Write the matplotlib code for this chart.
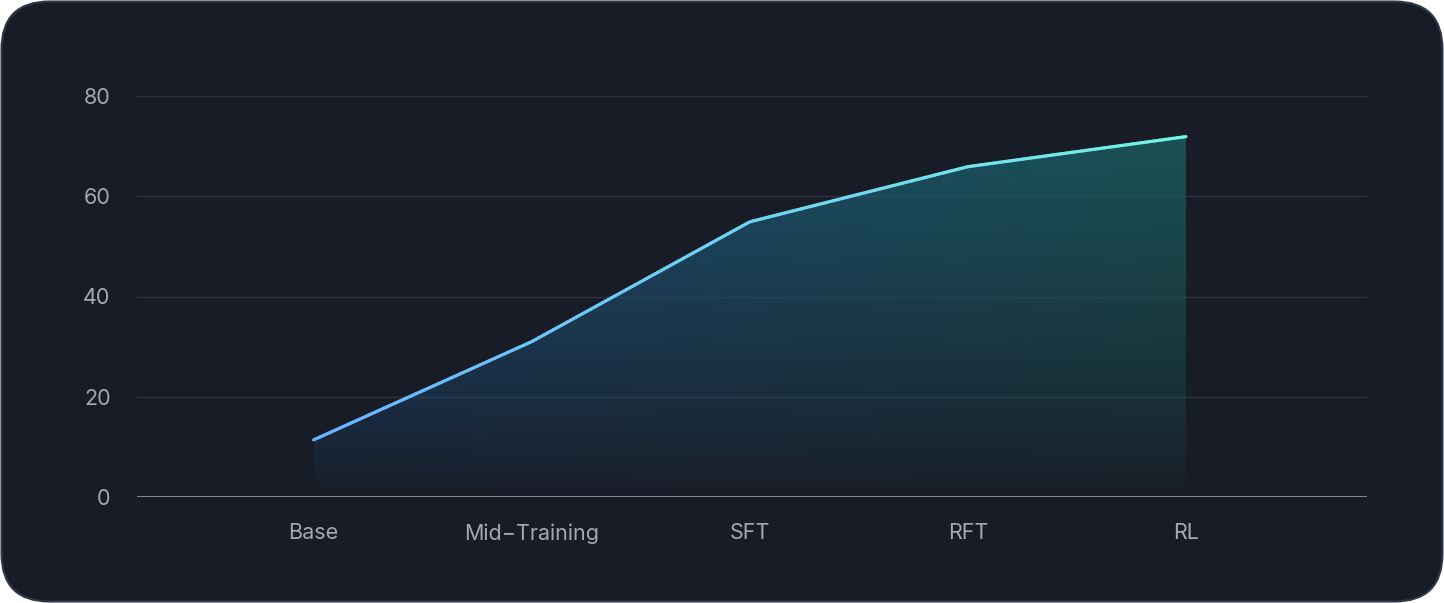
import numpy as np
import matplotlib.pyplot as plt
from matplotlib.patches import FancyBboxPatch
from matplotlib.collections import LineCollection
from matplotlib.colors import to_rgb

stages = ["Base", "Mid\u2212Training", "SFT", "RFT", "RL"]
scores = [11.4, 31.0, 54.9, 65.9, 71.9]
yticks = [0, 20, 40, 60, 80]

plt.rcParams["font.family"] = "Inter"

W, H = 1444, 603
fig = plt.figure(figsize=(W / 100, H / 100), dpi=100)
fig.patch.set_alpha(0)

# rounded card background
bg = fig.add_axes([0, 0, 1, 1])
bg.set_xlim(0, W)
bg.set_ylim(0, H)
bg.axis("off")
bg.add_patch(FancyBboxPatch((1.5, 1.5), W - 3, H - 3, boxstyle="round,pad=0,rounding_size=48",
                            fc="#181c26", ec="#30384a", lw=1.5))

ax = fig.add_axes([137 / W, 106 / H, (1367 - 137) / W, (497 - 96) / H])
ax.patch.set_alpha(0)
x = np.arange(len(stages))
ax.set_xlim(-0.81, 4.83)
ax.set_ylim(0, 80)

for t in yticks[1:]:
    ax.axhline(t, color="#2c3240", lw=1, zorder=1)
ax.axhline(0, color="#8a909c", lw=1.3, zorder=3)

# gradient fill under line
c_left = np.array(to_rgb("#1f5590"))
c_right = np.array(to_rgb("#1a6060"))
nx, ny = 400, 200
gx = np.linspace(0, 1, nx)[None, :, None]
gy = np.linspace(0, 1, ny)[:, None, None]
rgb = c_left * (1 - gx) + c_right * gx
rgb = np.broadcast_to(rgb, (ny, nx, 3))
alpha = (gy[..., 0] ** 0.8) * 0.8
img = np.dstack([rgb, np.broadcast_to(alpha, (ny, nx))])
poly = ax.fill_between(x, scores, 0, color="none", lw=0)
im = ax.imshow(img, extent=[x[0], x[-1], 0, max(scores)], origin="lower",
               aspect="auto", zorder=2)
im.set_clip_path(poly.get_paths()[0], transform=ax.transData)

# gradient line
xs = np.linspace(x[0], x[-1], 300)
ys = np.interp(xs, x, scores)
pts = np.column_stack([xs, ys]).reshape(-1, 1, 2)
segs = np.concatenate([pts[:-1], pts[1:]], axis=1)
ca = np.array(to_rgb("#6ab4ff"))
cb = np.array(to_rgb("#74f2e4"))
tt = np.linspace(0, 1, len(segs))[:, None]
lc = LineCollection(segs, colors=ca * (1 - tt) + cb * tt, lw=2.3, zorder=4, capstyle="round")
ax.add_collection(lc)

ax.set_xticks(x)
ax.set_xticklabels(stages)
ax.set_yticks(yticks)
ax.tick_params(length=0, colors="#a3a9b4", labelsize=15.5)
ax.tick_params(axis="x", pad=19)
ax.tick_params(axis="y", pad=19)
for s in ax.spines.values():
    s.set_visible(False)

fig.savefig("out.png", dpi=100, transparent=True)
